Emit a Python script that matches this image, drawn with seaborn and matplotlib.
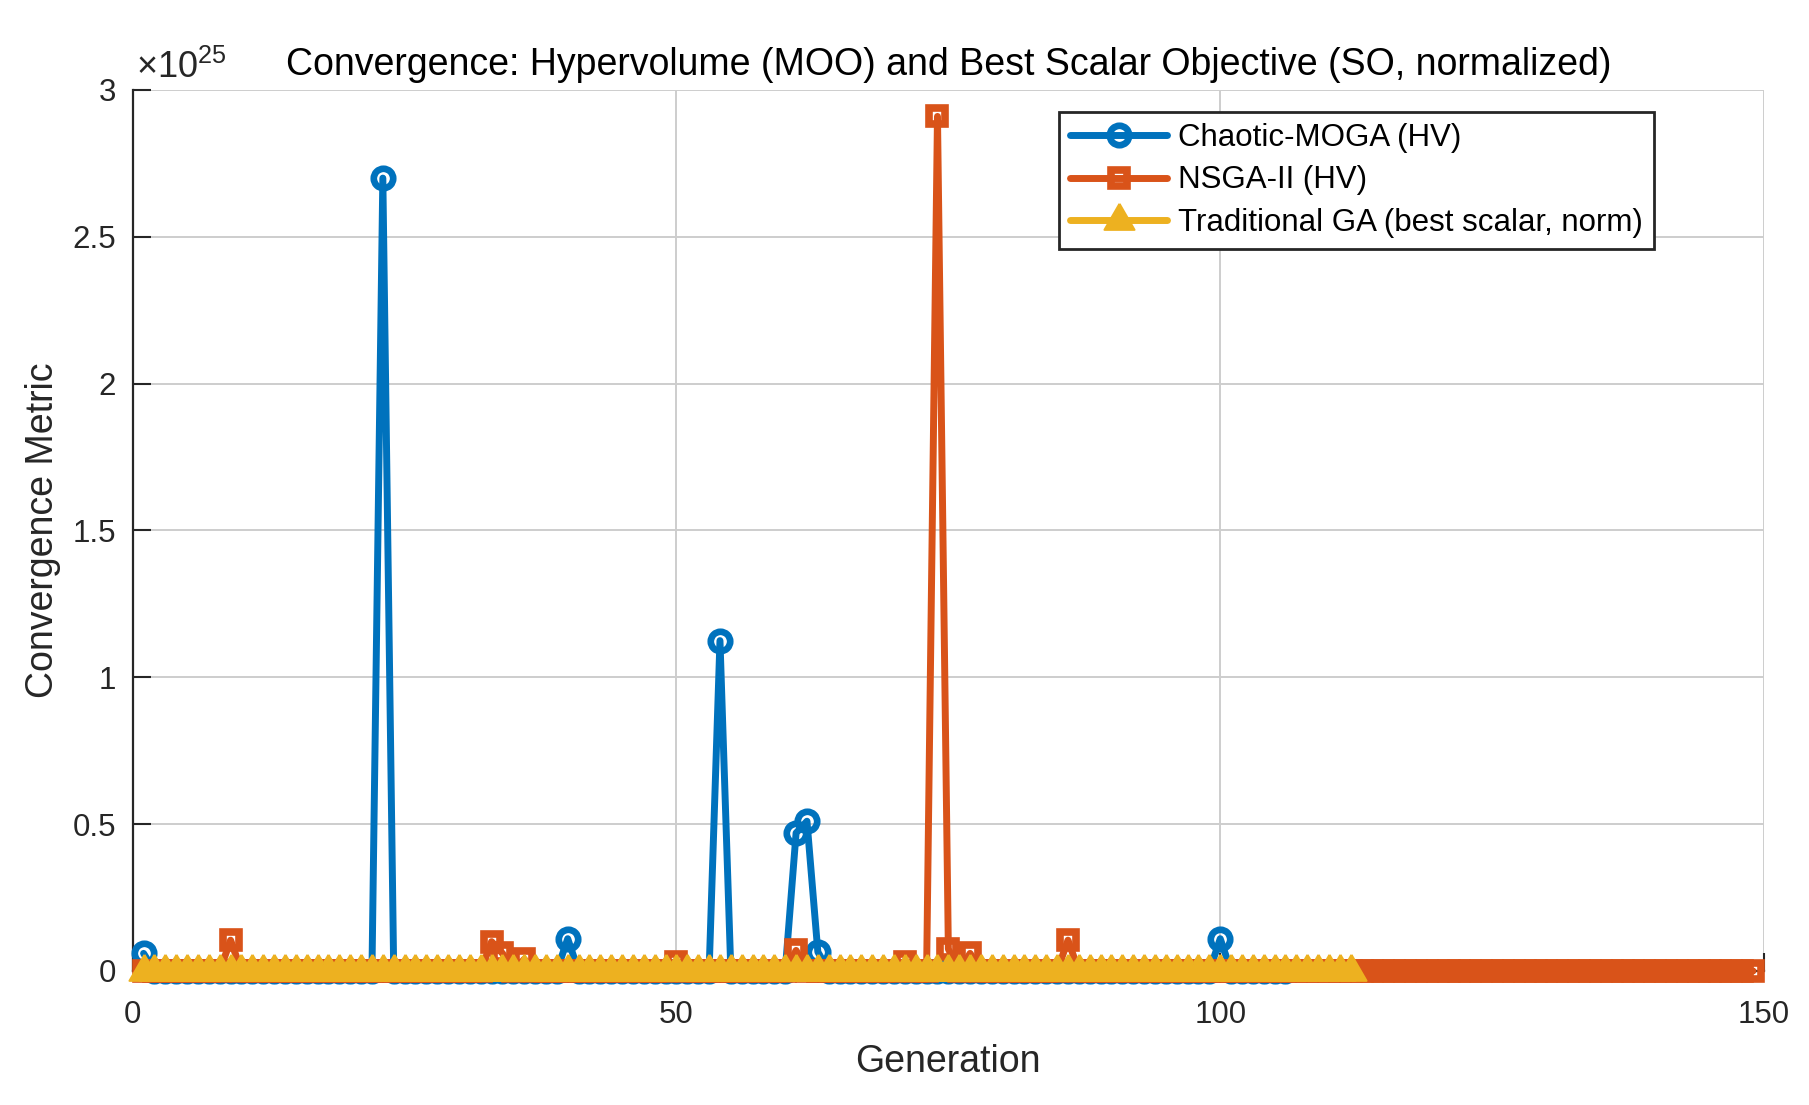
import numpy as np
import pandas as pd
import matplotlib
matplotlib.use("Agg")
import matplotlib.pyplot as plt
import seaborn as sns
from matplotlib.ticker import FuncFormatter, FixedLocator

# ---------------- data (values in units of 1e25) ----------------
SCALE = 1e25

# Chaotic-MOGA hypervolume, generations 1..106
chaotic_moga_hv = [
    0.06, 0, 0, 0, 0, 0, 0, 0, 0, 0,        # 1-10
    0, 0, 0, 0, 0, 0, 0, 0, 0, 0,           # 11-20
    0, 0, 2.70, 0, 0, 0, 0, 0, 0, 0,        # 21-30
    0, 0, 0, 0, 0, 0, 0, 0, 0, 0.11,        # 31-40
    0, 0, 0, 0, 0, 0, 0, 0, 0, 0,           # 41-50
    0, 0, 0, 1.125, 0, 0, 0, 0, 0, 0,       # 51-60
    0.47, 0.51, 0.065, 0, 0, 0, 0, 0, 0, 0, # 61-70
    0, 0, 0, 0, 0, 0, 0, 0, 0, 0,           # 71-80
    0, 0, 0, 0, 0, 0, 0, 0, 0, 0,           # 81-90
    0, 0, 0, 0, 0, 0, 0, 0, 0, 0.11,        # 91-100
    0, 0, 0, 0, 0, 0,                       # 101-106
]

# NSGA-II hypervolume, generations 1..149
nsga2_hv = [
    0, 0, 0, 0, 0, 0, 0, 0, 0.105, 0,        # 1-10
    0, 0, 0, 0, 0, 0, 0, 0, 0, 0,            # 11-20
    0, 0, 0, 0, 0, 0, 0, 0, 0, 0,            # 21-30
    0, 0, 0.10, 0.06, 0, 0.04, 0, 0, 0, 0,   # 31-40
    0, 0, 0, 0, 0, 0, 0, 0, 0, 0.03,         # 41-50
    0, 0, 0, 0, 0, 0, 0, 0, 0, 0,            # 51-60
    0.07, 0, 0, 0, 0, 0, 0, 0, 0, 0,         # 61-70
    0.03, 0, 0, 2.91, 0.075, 0, 0.06, 0, 0, 0,  # 71-80
    0, 0, 0, 0, 0, 0.105, 0, 0, 0, 0,        # 81-90
    0, 0, 0, 0, 0, 0, 0, 0, 0, 0,            # 91-100
    0, 0, 0, 0, 0, 0, 0, 0, 0, 0,            # 101-110
    0, 0, 0, 0, 0, 0, 0, 0, 0, 0,            # 111-120
    0, 0, 0, 0, 0, 0, 0, 0, 0, 0,            # 121-130
    0, 0, 0, 0, 0, 0, 0, 0, 0, 0,            # 131-140
    0, 0, 0, 0, 0, 0, 0, 0, 0,               # 141-149
]

# Traditional GA best scalar (normalized), generations 1..112
trad_ga_norm = [
    0, 0, 0, 0, 0, 0, 0, 0, 0, 0,
    0, 0, 0, 0, 0, 0, 0, 0, 0, 0,
    0, 0, 0, 0, 0, 0, 0, 0, 0, 0,
    0, 0, 0, 0, 0, 0, 0, 0, 0, 0,
    0, 0, 0, 0, 0, 0, 0, 0, 0, 0,
    0, 0, 0, 0, 0, 0, 0, 0, 0, 0,
    0, 0, 0, 0, 0, 0, 0, 0, 0, 0,
    0, 0, 0, 0, 0, 0, 0, 0, 0, 0,
    0, 0, 0, 0, 0, 0, 0, 0, 0, 0,
    0, 0, 0, 0, 0, 0, 0, 0, 0, 0,
    0, 0, 0, 0, 0, 0, 0, 0, 0, 0,
    0, 0,
]

series_labels = ["Chaotic-MOGA (HV)", "NSGA-II (HV)",
                 "Traditional GA (best scalar, norm)"]
x_ticks = [0, 50, 100, 150]
y_ticks = [0, 0.5, 1, 1.5, 2, 2.5, 3]
title_text = "Convergence: Hypervolume (MOO) and Best Scalar Objective (SO, normalized)"
x_label = "Generation"
y_label = "Convergence Metric"

# ---------------- style ----------------
sns.set_theme(style="white")
plt.rcParams["font.family"] = ["Liberation Sans", "DejaVu Sans"]
plt.rcParams["mathtext.default"] = "regular"

C_BLUE = "#0072BD"
C_ORANGE = "#D95319"
C_YELLOW = "#EDB120"
TXT = "#262626"

# MATLAB-like triangle (centered near its centroid, wider than tall)
tri_marker = [(0, 1.0), (-0.9, -0.56), (0.9, -0.56), (0, 1.0)]

fig = plt.figure(figsize=(18.09, 11.05), dpi=100)
W, H = 1809, 1105
ax = fig.add_axes([132.7 / W, 1 - 971 / H, (1764 - 132.7) / W, (971 - 90) / H])

def frame(vals):
    g = np.arange(1, len(vals) + 1)
    return pd.DataFrame({"gen": g, "val": np.asarray(vals, float) * SCALE})

d1 = frame(chaotic_moga_hv)
d2 = frame(nsga2_hv)
d3 = frame(trad_ga_norm)

sns.lineplot(data=d1, x="gen", y="val", ax=ax, color=C_BLUE, lw=5,
             marker="o", markersize=14, markeredgewidth=4.8,
             markerfacecolor="none", markeredgecolor=C_BLUE,
             label=series_labels[0], clip_on=False, zorder=3)
sns.lineplot(data=d2, x="gen", y="val", ax=ax, color=C_ORANGE, lw=5,
             marker="s", markersize=11, markeredgewidth=5.5,
             markerfacecolor="none", markeredgecolor=C_ORANGE,
             label=series_labels[1], clip_on=False, zorder=4)
sns.lineplot(data=d3, x="gen", y="val", ax=ax, color=C_YELLOW, lw=5,
             marker=tri_marker, markersize=24, markeredgewidth=1.5,
             markerfacecolor=C_YELLOW, markeredgecolor=C_YELLOW,
             label=series_labels[2], clip_on=False, zorder=5)

ax.set_xlim(0, 150)
ax.set_ylim(0, 3 * SCALE)
ax.xaxis.set_major_locator(FixedLocator(x_ticks))
ax.yaxis.set_major_locator(FixedLocator([v * SCALE for v in y_ticks]))
ax.yaxis.set_major_formatter(FuncFormatter(lambda v, _: f"{v / SCALE:g}"))
ax.xaxis.set_major_formatter(FuncFormatter(lambda v, _: f"{v:g}"))

ax.grid(True, color="#cdcdcd", lw=1.4)
ax.set_axisbelow(True)
for s in ["top", "right"]:
    ax.spines[s].set_visible(False)
for s in ["left", "bottom"]:
    ax.spines[s].set_color(TXT)
    ax.spines[s].set_linewidth(1.6)
ax.tick_params(axis="both", direction="in", length=13, width=1.5,
               labelsize=22.5, colors=TXT, top=False, right=False,
               bottom=True, left=True)
ax.tick_params(axis="x", pad=21)
ax.tick_params(axis="y", pad=12)

ax.set_xlabel(x_label, fontsize=27, color=TXT, labelpad=10)
ax.set_ylabel(y_label, fontsize=27, color=TXT, labelpad=8)
ax.set_title(title_text, fontsize=27, color="black", pad=11)

ax.text(0.002, 1.004, r"$\times$10$^{25}$", transform=ax.transAxes,
        ha="left", va="bottom", fontsize=26, color=TXT)

leg = ax.legend(loc="upper right", bbox_to_anchor=(0.9326, 0.975),
                borderaxespad=0, fontsize=22.5, frameon=True, fancybox=False,
                edgecolor=TXT, framealpha=1, handlelength=3.1,
                handletextpad=0.35, labelspacing=0.4, borderpad=0.35)
leg.get_frame().set_linewidth(2)
for t in leg.get_texts():
    t.set_color("black")

fig.savefig("out.png", dpi=100, facecolor="white")
